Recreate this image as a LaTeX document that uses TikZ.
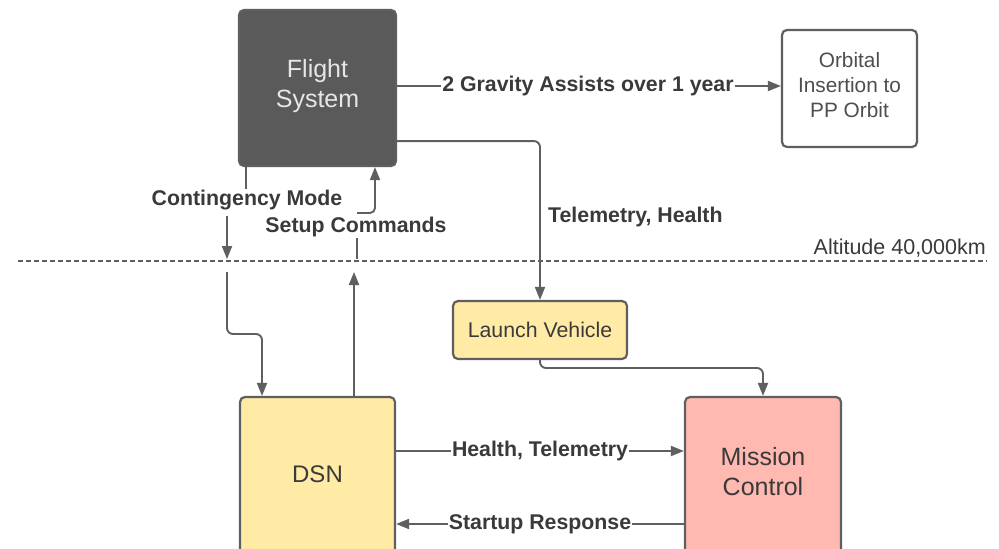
\documentclass[tikz,border=0pt]{standalone}
\usepackage{fontspec}
\setmainfont{Liberation Sans}
\usetikzlibrary{arrows.meta}
\definecolor{ln}{HTML}{5F5F5F}
\definecolor{fsfill}{HTML}{5A5A5A}
\definecolor{fstext}{HTML}{E6E6E6}
\definecolor{yel}{HTML}{FFEAA6}
\definecolor{pink}{HTML}{FFB9B0}
\definecolor{txt}{HTML}{3A3A3A}
\tikzset{
  box/.style={draw=ln, line width=2.2pt, rounded corners=5pt, align=center, text=txt, inner sep=2pt},
  boxtext/.style={align=center, text=txt, inner sep=0pt},
  lbl/.style={font=\bfseries\fontsize{21.3}{24}\selectfont, text=txt, inner sep=1pt},
  conn/.style={draw=ln, line width=1.9pt},
  arr/.style={conn, -{Triangle[length=13pt,width=10pt]}},
}
\begin{document}
\begin{tikzpicture}[x=1pt,y=-1pt]
\useasboundingbox (0,0) rectangle (999,549);
\fill[white] (0,0) rectangle (999,549);

% nodes
\node[box, fill=fsfill, minimum width=157pt, minimum height=156pt] (fs) at (317.5,88) {};
\node[boxtext, text=fstext, font=\fontsize{25}{30}\selectfont] (fst) at (317.5,86) {Flight\\System};
\node[box, fill=white, minimum width=135pt, minimum height=117pt] (orb) at (849.5,88.5) {};
\node[boxtext, text=txt!90, font=\fontsize{20.8}{25}\selectfont] (orbt) at (849.5,85) {Orbital\\Insertion to\\PP Orbit};
\node[box, fill=yel, minimum width=174pt, minimum height=58pt,
      font=\fontsize{21.3}{24}\selectfont] (lv) at (540,330) {Launch Vehicle};
\node[box, fill=yel, minimum width=155pt, minimum height=180pt] (dsn) at (317.5,487) {};
\node[boxtext, font=\fontsize{24}{30}\selectfont] (dsnt) at (317.5,474) {DSN};
\node[box, fill=pink, minimum width=156pt, minimum height=180pt] (mc) at (763,487) {};
\node[boxtext, font=\fontsize{25}{30}\selectfont] (mct) at (763,472) {Mission\\Control};

% altitude line
\coordinate (dl) at (18,261);
\coordinate (dr) at (987,261);
\draw[ln, line width=1.5pt, dash pattern=on 5pt off 3pt] (dl) -- (dr);
\node[anchor=south east, inner sep=1pt, text=txt, font=\fontsize{21.5}{24}\selectfont] (alt) at (987,258) {Altitude 40,000km};

% labels
\node[lbl] (grav) at (588,86) {2 Gravity Assists over 1 year};
\node[lbl, anchor=west] (tel) at (547,217) {Telemetry, Health};
\node[lbl] (cm) at (247,200) {Contingency Mode};
\node[lbl] (sc) at (356,227) {Setup Commands};
\node[lbl] (ht) at (540,451) {Health, Telemetry};
\node[lbl] (sr) at (540,524) {Startup Response};

% gravity assists
\draw[conn] (fs.east |- grav) -- (grav.west);
\draw[arr] (grav.east) -- (orb.west |- grav);

% telemetry, health
\coordinate (t0) at ([yshift=26pt]fs.south east);
\draw[arr, rounded corners=6pt] (t0) -- (lv.north |- t0) -- (lv.north);

% contingency mode
\coordinate (c0) at ([xshift=8pt]fs.south west);
\draw[conn] (c0) -- (c0 |- cm.north);
\coordinate (c1) at (227,216);
\coordinate (c2) at (227,259);
\draw[arr] (c1) -- (c2);
\coordinate (c3) at (227,272);
\coordinate (c4) at (262,334);
\draw[arr, rounded corners=6pt] (c3) -- (c3 |- c4) -- (c4) -- (c4 |- dsn.north);

% setup commands
\coordinate (s0) at (354,272);
\draw[arr] (s0 |- dsn.north) -- (s0);
\coordinate (s1) at (357,259);
\draw[conn] (s1) -- (s1 |- sc.south);
\coordinate (s2) at (357,213);
\coordinate (s3) at (375,213);
\draw[arr, rounded corners=5pt] (s2) -- (s3) -- (s3 |- fs.south);

% launch vehicle to mission control
\coordinate (l1) at (540,368);
\draw[arr, rounded corners=6pt] (lv.south) -- (l1) -- (mc.north |- l1) -- (mc.north);

% DSN <-> mission control
\draw[conn] (dsn.east |- ht) -- (ht.west);
\draw[arr] (ht.east) -- (mc.west |- ht);
\draw[conn] (mc.west |- sr) -- (sr.east);
\draw[arr] (sr.west) -- (dsn.east |- sr);
\end{tikzpicture}
\end{document}
